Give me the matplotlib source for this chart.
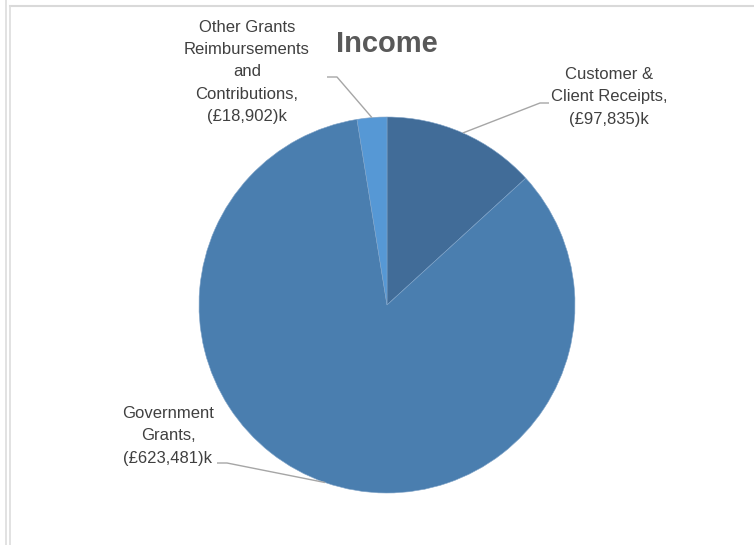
import numpy as np
import matplotlib
matplotlib.use("Agg")
import matplotlib.pyplot as plt
from matplotlib.lines import Line2D

# income split, clockwise from 12 o'clock
names = ["Customer &\nClient Receipts,", "Government\nGrants,",
         "Other Grants\nReimbursements\nand\nContributions,"]
values = [97835, 623481, 18902]
colors = ["#416C98", "#4A7EAF", "#5698D5"]

W, H = 754, 545
fig = plt.figure(figsize=(W / 100, H / 100), dpi=100)
ax = fig.add_axes([0, 0, 1, 1])
ax.set_xlim(0, W)
ax.set_ylim(0, H)
ax.axis("off")

def px(x, y):
    # pixel coords measured from the top-left corner
    return x, H - y

cx, cy = px(387, 305)
r = 188
wedges, _ = ax.pie(values, colors=colors, startangle=90, counterclock=False,
                   center=(cx, cy), radius=r,
                   wedgeprops=dict(edgecolor="#7FA3C8", linewidth=0.4))
ax.set_xlim(0, W)
ax.set_ylim(0, H)
ax.set_aspect("equal")

fontname = "Liberation Sans"
txt_col = "#404040"
line_col = "#A6A6A6"

# label text centre, elbow point and end of horizontal stub
label_pos = [(609, 97), (168, 436), (247, 72)]
elbows = [((540, 103), (549, 103)), ((227, 463), (217, 463)), ((337, 77), (327, 77))]

for w, name, v, pos, (e1, e2) in zip(wedges, names, values, label_pos, elbows):
    mid = np.deg2rad((w.theta1 + w.theta2) / 2)
    ex, ey = cx + r * np.cos(mid), cy + r * np.sin(mid)
    xs = [ex, px(*e1)[0], px(*e2)[0]]
    ys = [ey, px(*e1)[1], px(*e2)[1]]
    ax.plot(xs, ys, color=line_col, lw=1.0, solid_capstyle="butt")
    ax.text(*px(*pos), f"{name}\n(£{v:,})k", ha="center", va="center",
            fontsize=12, color=txt_col, family=fontname, linespacing=1.6)

ax.text(*px(387, 44), "Income", ha="center", va="center", fontsize=21,
        fontweight="bold", color="#595959", family=fontname)

# frame edges
fig.add_artist(Line2D([10 / W, 1], [1 - 6 / H, 1 - 6 / H], color="#D9D9D9", lw=1.5))
fig.add_artist(Line2D([6 / W, 6 / W], [0, 1], color="#DDDDDD", lw=1.2))
fig.add_artist(Line2D([10 / W, 10 / W], [0, 1 - 6 / H], color="#DDDDDD", lw=1.2))

fig.savefig("out.png", dpi=100, facecolor="white")
